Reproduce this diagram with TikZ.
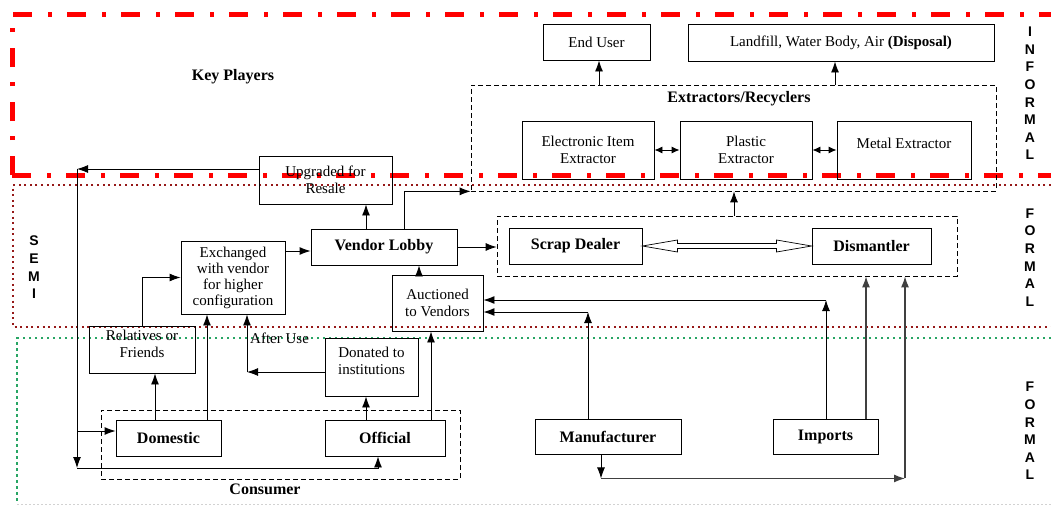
\documentclass[tikz,border=0pt]{standalone}
\usepackage{fontspec}
\setmainfont{Liberation Serif}
\newfontfamily\lettersf{Liberation Sans}
\usetikzlibrary{arrows.meta,calc}
\definecolor{semired}{RGB}{150,25,25}
\definecolor{formgreen}{RGB}{40,165,100}
\tikzset{
  box/.style={draw, line width=0.9pt, inner sep=2pt, align=center, font=\fontsize{15}{17}\selectfont},
  bbox/.style={box, font=\bfseries\fontsize{16}{18}\selectfont},
  dbox/.style={draw, dash pattern=on 5pt off 3pt, line width=0.7pt},
  arr/.style={-{Latex[length=11pt,width=8pt]}, line width=0.9pt},
  darr/.style={{Latex[length=8pt,width=7pt]}-{Latex[length=8pt,width=7pt]}, line width=0.9pt},
  ln/.style={line width=0.9pt},
  vlet/.style={font=\lettersf\bfseries\fontsize{14}{17.6}\selectfont, align=center, inner sep=0pt},
  title/.style={font=\bfseries\fontsize{16}{18}\selectfont, inner sep=1pt}
}
\begin{document}
\begin{tikzpicture}[x=1pt,y=-1pt]
\useasboundingbox (0,0) rectangle (1051,506);
% regions
\draw[red, line width=5pt, dash pattern=on 19pt off 16pt on 4pt off 15pt] (12,175) -- (12,14) -- (1051,14);
\draw[red, line width=5pt, dash pattern=on 19pt off 16pt on 4pt off 15pt] (12,175) -- (1051,175);
\draw[semired, line width=2pt, dash pattern=on 2pt off 3.6pt] (1051,185) -- (13,185) -- (13,327) -- (1051,327);
\draw[formgreen, line width=2.5pt, dash pattern=on 2.5pt off 3.5pt] (1051,338) -- (17,338) -- (17,503);
\draw[gray!35, line width=1pt, dash pattern=on 2pt off 2pt] (17,504) -- (1051,504);

% side letters
\node[vlet] (informal) at (1030,93.5) {I\\N\\F\\O\\R\\M\\A\\L};
\node[vlet] (formal1) at (1030,257.5) {F\\O\\R\\M\\A\\L};
\node[vlet] (formal2) at (1030,431) {F\\O\\R\\M\\A\\L};
\node[vlet] (semi) at (34,267.5) {S\\E\\M\\I};

% titles
\node[title] (keyplayers) at (233,77) {Key Players};
\node[title] (consumerlbl) at (265,489) {Consumer};

% containers
\node[dbox, minimum width=525pt, minimum height=106pt] (extr) at (733.5,138) {};
\node[title] (extrtitle) at (739,99) {Extractors/Recyclers};
\node[dbox, minimum width=460pt, minimum height=60pt] (scrapbox) at (727,246) {};
\node[dbox, minimum width=359pt, minimum height=69pt] (consumer) at (280.5,444.5) {};

% boxes
\node[box, minimum width=107pt, minimum height=36pt] (enduser) at (596.5,42) {End User};
\node[box, minimum width=306pt, minimum height=37pt] (landfill) at (841,42.5) {Landfill, Water Body, Air \textbf{(Disposal)}};
\node[box, minimum width=132pt, minimum height=58pt] (elec) at (588,150) {Electronic Item\\Extractor};
\node[box, minimum width=132pt, minimum height=58pt] (plastic) at (746,150) {Plastic\\Extractor};
\node[box, minimum width=134pt, minimum height=58pt] (metal) at (904,150) {Metal Extractor\\[-4pt]\mbox{}};
\node[box, minimum width=133pt, minimum height=48pt] (upgraded) at (325.5,180) {Upgraded for\\Resale};
\node[bbox, minimum width=146pt, minimum height=36pt] (vendor) at (384,247) {Vendor Lobby};
\node[box, minimum width=104pt, minimum height=73pt, font=\fontsize{15}{16}\selectfont] (exchanged) at (233,277.5) {Exchanged\\with vendor\\for higher\\configuration};
\node[bbox, minimum width=133pt, minimum height=36pt] (scrap) at (575.5,246) {Scrap Dealer};
\node[bbox, minimum width=119pt, minimum height=36pt] (dis) at (871.5,246) {Dismantler};
\node[box, minimum width=91pt, minimum height=56pt] (auctioned) at (437.5,303) {Auctioned\\to Vendors};
\node[box, minimum width=106pt, minimum height=47pt] (relatives) at (142,349.5) {Relatives or\\Friends\\[-6pt]\mbox{}};
\node[box, minimum width=93pt, minimum height=58pt] (donated) at (371.5,367) {Donated to\\institutions\\[-4pt]\mbox{}};
\node[bbox, minimum width=105pt, minimum height=36pt] (domestic) at (168.5,438) {Domestic};
\node[bbox, minimum width=120pt, minimum height=36pt] (official) at (385,438) {Official};
\node[bbox, minimum width=146pt, minimum height=35pt] (manufacturer) at (608,436.5) {Manufacturer};
\node[bbox, minimum width=105pt, minimum height=35pt] (imports) at (825.5,436.5) {Imports};

\node[anchor=west, inner sep=0pt, font=\fontsize{15}{17}\selectfont] (afteruse) at (250,338) {After Use};

% helper coordinates
\coordinate (lf) at ($(landfill.south)+(-6,0)$);
\coordinate (eu) at ($(enduser.south)+(2.5,0)$);
\coordinate (sb) at ($(scrapbox.north)+(7,0)$);
\coordinate (ev) at ($(exchanged.east)+(0,-26.5)$);
\coordinate (vu) at ($(vendor.north)+(-18,0)$);
\coordinate (vx) at ($(vendor.north)+(20,0)$);
\coordinate (av) at ($(auctioned.north)+(-18.5,0)$);
\coordinate (dr) at ($(domestic.north)+(-13.5,0)$);
\coordinate (de) at ($(domestic.north)+(38.5,0)$);
\coordinate (od) at ($(official.north)+(-19,0)$);
\coordinate (oa) at ($(official.north)+(46,0)$);
\coordinate (os) at ($(official.south)+(-7,0)$);
\coordinate (dn) at ($(donated.west)+(0,5)$);
\coordinate (au) at ($(exchanged.south)+(14,0)$);
\coordinate (uw) at ($(upgraded.west)+(0,-11)$);
\coordinate (lu) at (77,169);
\coordinate (ll) at (77,468);
\coordinate (lm) at (77,431);
\coordinate (mu) at ($(manufacturer.north)+(-20,0)$);
\coordinate (mc) at ($(auctioned.east)+(0,9)$);
\coordinate (iu) at ($(imports.north)+(0.5,0)$);
\coordinate (ic) at ($(auctioned.east)+(0,-3)$);
\coordinate (is) at ($(imports.north)+(40.5,0)$);
\coordinate (md) at ($(manufacturer.south)+(-7,0)$);
\coordinate (mb) at ($(md)+(0,24)$);
\coordinate (sx) at ($(scrapbox.south)+(178,0)$);

% connectors
\draw[arr] (eu |- extr.north) -- (eu);
\draw[arr] (lf |- extr.north) -- (lf);
\draw[darr] (elec.east) -- (plastic.west);
\draw[darr] (plastic.east) -- (metal.west);
\draw[arr] (sb) -- (sb |- extr.south);
\draw[arr] (vendor.east) -- (vendor.east -| scrapbox.west);
\draw[line width=0.7pt, fill=white] (scrap.east) -- ([xshift=35pt,yshift=-6pt]scrap.east) -- ([xshift=35pt,yshift=-2.5pt]scrap.east)
  -- ([xshift=-35pt,yshift=-2.5pt]dis.west) -- ([xshift=-35pt,yshift=-6pt]dis.west) -- (dis.west)
  -- ([xshift=-35pt,yshift=6pt]dis.west) -- ([xshift=-35pt,yshift=2.5pt]dis.west)
  -- ([xshift=35pt,yshift=2.5pt]scrap.east) -- ([xshift=35pt,yshift=6pt]scrap.east) -- cycle;
\draw[arr] (ev) -- (ev -| vendor.west);
\draw[arr] (vu) -- (vu |- upgraded.south);
\draw[arr] (vx) |- (extr.south west);
\draw[arr] (av |- auctioned.north) -- (av |- vendor.south);
\draw[arr] (relatives.north) |- (exchanged.west);
\draw[arr] (dr) -- (dr |- relatives.south);
\draw[arr] (de) -- (de |- exchanged.south);
\draw[arr] (od) -- (od |- donated.south);
\draw[arr] (oa) -- (oa |- auctioned.south);
\draw[arr] (dn) -- (dn -| au);
\draw[arr] (dn -| au) -- (au);
\draw[arr] (uw) -- (uw -| lu);
\draw[arr] (lu) -- (ll);
\draw[arr] (ll) -| (os);
\draw[arr] (lm) -- (lm -| domestic.west);
\draw[arr] (mu) -- (mu |- mc);
\draw[arr] (mu |- mc) -- (mc);
\draw[arr] (iu) -- (iu |- ic);
\draw[arr] (iu |- ic) -- (ic);
\draw[arr, line width=1.3pt, black!75] (is) -- (is |- scrapbox.south);
\draw[arr] (md) -- (mb);
\draw[arr, line width=1.3pt, black!75] (mb) -- (mb -| sx);
\draw[arr, line width=1.3pt, black!75] (mb -| sx) -- (sx);
\end{tikzpicture}
\end{document}
